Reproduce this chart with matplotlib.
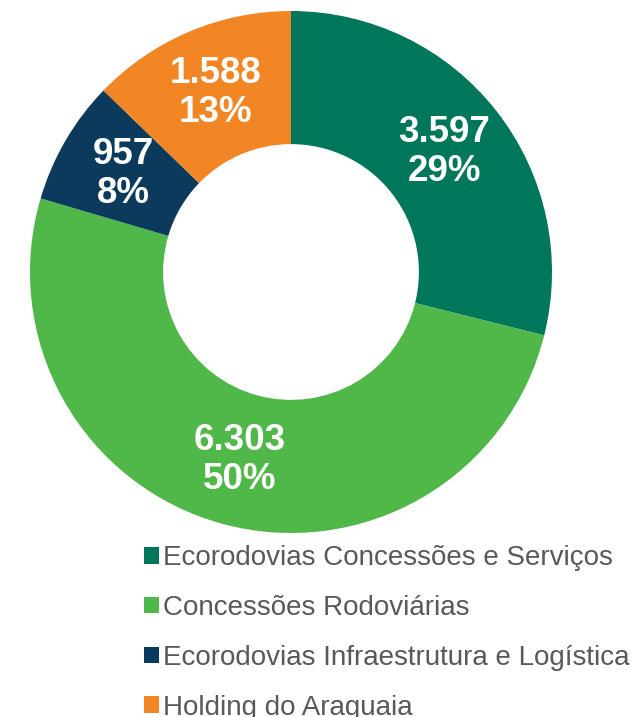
import numpy as np
import matplotlib.pyplot as plt
from matplotlib.patches import Patch

plt.rcParams['font.family'] = ['Liberation Sans', 'DejaVu Sans']

# dados
segmentos = ['Ecorodovias Concessões e Serviços', 'Concessões Rodoviárias',
             'Ecorodovias Infraestrutura e Logística', 'Holding do Araguaia']
valores = [3597, 6303, 957, 1588]
percentuais = [29, 50, 8, 13]
cores = ['#00765A', '#50B848', '#0B3A5C', '#F28524']

fig = plt.figure(figsize=(6.41, 7.17), dpi=100)
ax = fig.add_axes([30 / 641, (717 - 533) / 717, 522 / 641, 522 / 717])

total = sum(valores)
ax.pie(valores, colors=cores, startangle=90, counterclock=False,
       radius=1, wedgeprops=dict(width=0.51, linewidth=0))
ax.set_xlim(-1, 1)
ax.set_ylim(-1, 1)

acum = 0
for v, p in zip(valores, percentuais):
    meio = 90 - (acum + v / 2) / total * 360
    acum += v
    r = 0.745
    x = r * np.cos(np.radians(meio))
    y = r * np.sin(np.radians(meio))
    txt = f'{v:,}'.replace(',', '.') + f'\n{p}%'
    ax.text(x, y, txt, ha='center', va='center', color='white',
            fontsize=26.5, fontweight='bold', linespacing=1.15)

handles = [Patch(facecolor=c, edgecolor='none') for c in cores]
leg = fig.legend(handles, segmentos, loc='upper left', bbox_to_anchor=(144 / 641, 1 - 545 / 717),
                 frameon=False, fontsize=20, labelspacing=0.86, handlelength=0.55,
                 handleheight=0.55, handletextpad=0.15, borderpad=0, borderaxespad=0)
for t in leg.get_texts():
    t.set_color('#595959')

fig.savefig('out.png', dpi=100)
